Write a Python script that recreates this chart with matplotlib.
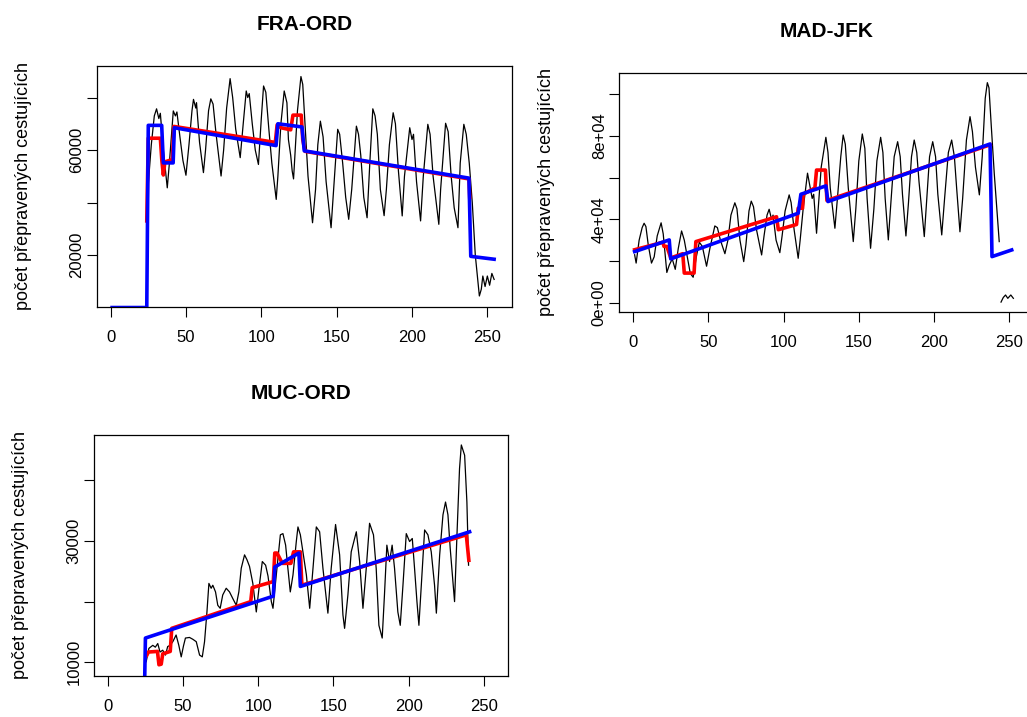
"""
Three airline routes: monthly passengers (black) with two fitted trends (red, blue)
"""
import numpy as np
import matplotlib
matplotlib.use("Agg")
import matplotlib.pyplot as plt

plt.rcParams['font.family'] = ['Liberation Sans', 'DejaVu Sans']

YLABEL = "počet přepravených cestujících"

# ---- FRA-ORD ----
fra_x = [25, 27, 29, 30.5, 32, 33, 35, 37.6, 39, 41.6, 43, 44, 46, 48, 50, 52, 54, 55, 56.5, 57, 59,
         61.6, 63, 65, 66.5, 68, 70, 73.3, 75, 77, 79.3, 81, 83, 86, 88, 90, 91, 92, 94, 96, 98.1,
         100, 101.5, 103, 105, 107, 109.9, 111, 113, 115.2, 117, 118, 119.5, 120.5, 121.4, 122, 124,
         126.3, 127.5, 129, 131, 134, 136, 137.5, 139.2, 141, 143, 146.3, 148, 150.7, 152, 154, 156,
         158, 160, 163.1, 164.5, 166, 168, 170.2, 172, 174, 175.5, 177, 179, 181.5, 183, 185, 187.5,
         189, 191, 193.5, 195, 198.5, 200, 201, 203, 205.7, 207.5, 210.5, 212, 214, 217.8, 219, 222.3,
         224, 226, 228, 230.5, 232, 234.4, 236, 238, 240, 242, 244.7, 246, 247, 248.5, 250, 251.5,
         253, 254.5]
fra_y = [47000, 62000, 73000, 75700, 72000, 74000, 60000, 45600, 55000, 74900, 73000, 74500, 65000,
         56000, 50400, 62000, 75000, 79300, 76000, 78000, 63000, 51400, 60000, 75000, 79500, 77500,
         66000, 50100, 60000, 76000, 87200, 80000, 68000, 57100, 70000, 82500, 80000, 81500, 70000,
         60000, 54500, 72000, 84400, 82000, 68000, 55000, 41200, 50000, 70000, 82500, 78000, 64000,
         58000, 52000, 49000, 55000, 75000, 88000, 85000, 70000, 50000, 32300, 45000, 62000, 71000,
         65000, 48000, 30400, 45000, 67900, 66000, 55000, 42000, 33600, 45000, 69100, 66000, 58000,
         42000, 34200, 55000, 75700, 73000, 66000, 45000, 35000, 45000, 62000, 74200, 70000, 52000,
         34900, 50000, 68500, 64000, 66000, 48000, 33000, 50000, 69800, 66000, 50000, 31700, 45000,
         70200, 67000, 50000, 38000, 30400, 55000, 69800, 66000, 55000, 40000, 20000, 4400, 7000,
         12000, 8000, 12000, 8500, 13000, 10700]
fra_red_x = [24, 25, 33, 34, 35, 36, 41, 42, 109.3, 110.5, 113, 119.5, 121, 126.5, 127.5, 129,
             237.8, 238.3]
fra_red_y = [33000, 64500, 64500, 56000, 50500, 55500, 56400, 69000, 62900, 69600, 68500, 67700,
             73300, 73300, 64000, 59500, 49000, 42000]
fra_blue_x = [1, 24, 25, 33.9, 35, 41.5, 42.3, 109.8, 111, 127, 128.5, 237.8, 239, 254.5]
fra_blue_y = [0, 0, 69400, 69400, 55100, 55100, 68500, 61700, 70000, 68800, 59700, 49300, 19500,
              18400]

# ---- MAD-JFK ----
mad_x = [1, 2, 4, 6, 7.3, 8.5, 10, 12.2, 14, 16, 18.6, 20, 22.4, 24, 26, 28, 30, 32.2, 34, 36, 38,
         39.9, 42, 44, 46, 48.8, 51, 54.3, 56, 58, 61, 63, 65, 67.6, 69, 71, 73.5, 75, 77, 78.5, 80,
         82, 85.4, 87, 89, 90.4, 92, 93, 95, 97.5, 99, 101, 103.7, 105, 107, 109.7, 111, 113, 115.9,
         117.5, 119, 120, 121.9, 123, 125, 128.1, 129.5, 131, 134.1, 136, 138, 139.6, 141, 143,
         146.3, 148, 150, 152.3, 154, 155.5, 157.8, 160, 162, 164.5, 166, 167.5, 169.6, 171.5, 173.5,
         175.8, 177.5, 179, 181.3, 183, 185, 186.8, 188.5, 190, 193.5, 195, 197, 199.1, 201, 202.5,
         205.1, 207, 209.5, 211.7, 213.5, 215, 217.2, 219, 221.5, 223.9, 225.5, 227.5, 230.1, 232,
         234, 235.4, 236.5, 238, 240, 243.3, 244, 244.5, 246, 247.5, 249, 251, 252.7]
mad_y = [23000, 19000, 30000, 36000, 38100, 36500, 28000, 19000, 22000, 32000, 38300, 33000, 14500,
         18000, 21000, 16000, 26000, 34400, 30000, 22000, 14000, 12200, 22000, 29000, 27000, 17500,
         26000, 36800, 36000, 30000, 23500, 30000, 42000, 47900, 45000, 30000, 19700, 28000, 44000,
         48700, 46000, 35000, 22900, 32000, 42000, 44800, 40000, 42000, 30000, 24000, 32000, 44000,
         51700, 48000, 35000, 21300, 30000, 45000, 62100, 56000, 50000, 52000, 33300, 45000, 65000,
         79300, 72000, 55000, 35700, 52000, 70000, 80400, 76000, 55000, 29300, 45000, 68000, 80900,
         74000, 50000, 26100, 45000, 68000, 79300, 72000, 50000, 30100, 50000, 70000, 77200, 70000,
         52000, 32000, 48000, 70000, 78000, 72000, 58000, 31700, 48000, 70000, 77200, 70000, 52000,
         32500, 50000, 72000, 78000, 70000, 55000, 34000, 50000, 78000, 89200, 82000, 65000, 51700,
         70000, 98000, 105500, 103000, 85000, 62000, 29300, np.nan, 300, 2500, 3700, 2100, 3700,
         2100]
mad_red_x = [1, 19.9, 20.5, 22.4, 25, 33, 34, 40.5, 41.7, 95.3, 96.5, 108.6, 109.7, 112.6, 113,
             120.8, 121.9, 127.8, 128.8, 237.2]
mad_red_y = [25400, 29000, 27000, 27000, 21500, 23500, 14200, 14200, 29300, 41200, 35000, 37500,
             45300, 45300, 52000, 55000, 63600, 63600, 49000, 75700]
mad_blue_x = [1, 24, 25, 109.7, 111.5, 128.1, 129.5, 237.2, 238.5, 251.6]
mad_blue_y = [24500, 30100, 21000, 42900, 52000, 56000, 48500, 76100, 22100, 25300]

# ---- MUC-ORD ----
muc_x = [25.5, 27.3, 29.9, 31.6, 33.2, 34.7, 36.5, 38.3, 39.8, 41.4, 43.2, 45.4, 47.2, 48.8, 50.3,
         51.6, 54.3, 56.5, 58.8, 61, 62.8, 64.3, 65.9, 67.2, 68.7, 69.8, 71.6, 73.1, 74.7, 76.4, 78.7,
         80.9, 83.1, 85.4, 87.1, 88.7, 90.9, 92.5, 94.2, 96.4, 98.7, 100.5, 102.7, 104.9, 106.5,
         108.7, 109.8, 112, 114.7, 116.4, 118.2, 119.7, 121.3, 123.1, 125.3, 126.4, 128, 129.7, 132,
         134.2, 136.4, 138.6, 140.8, 143, 146.3, 148.5, 151.4, 154.1, 156.3, 157.4, 159.6, 161.8,
         165.2, 167.4, 169.6, 171.8, 174, 176.6, 178.4, 180.2, 182.4, 183.9, 185.5, 187.3, 189,
         190.6, 192.8, 194.4, 196.2, 198.4, 200.6, 202.4, 203.9, 205.5, 206.8, 208.4, 210.6, 212.8,
         215, 217.2, 218.4, 220.6, 222.8, 224.5, 226.1, 227.6, 230.5, 232.1, 233.8, 235, 237.2,
         238.7, 239.8]
muc_y = [10100, 12300, 12800, 12500, 13100, 11700, 12000, 11200, 12600, 12800, 13400, 14500, 12800,
         10900, 12700, 14000, 14100, 13800, 13400, 11200, 10900, 13400, 18300, 23000, 22200, 22700,
         21600, 19400, 18900, 21100, 22200, 21600, 20500, 19400, 21600, 25500, 27700, 26900, 25800,
         23000, 18300, 22200, 26600, 26000, 24200, 20000, 18900, 24400, 31000, 31200, 29300, 25500,
         21600, 24400, 29900, 32300, 31000, 28200, 24400, 18900, 25500, 32300, 31500, 25500, 18100,
         25500, 32700, 27700, 17800, 15600, 21100, 28200, 31500, 26600, 18900, 25500, 32900, 31000,
         25500, 16100, 14000, 21100, 29300, 26600, 29300, 25500, 18300, 16100, 22700, 31200, 29900,
         30400, 25500, 20000, 16100, 22700, 31800, 31000, 28200, 22700, 18100, 27700, 34300, 36400,
         34300, 28800, 20000, 31000, 41900, 45800, 44100, 36400, 26000]
muc_red_x = [26, 27, 33, 34, 35.5, 36.5, 41.5, 42.5, 95, 96, 110, 111, 112.5, 116, 121.7, 123.5,
             128, 129, 238.3, 240]
muc_red_y = [11200, 11700, 11800, 9600, 9700, 11400, 11800, 15600, 20000, 22300, 23300, 28000,
             28000, 26300, 26300, 28200, 28200, 22700, 31000, 26800]
muc_blue_x = [24, 25, 110, 111, 127, 128, 240.5]
muc_blue_y = [0, 14000, 20900, 25700, 28000, 22500, 31500]

xticks = [0, 50, 100, 150, 200, 250]


def panel(ax, title, bx, by, rx, ry, ux, uy, ylim, yticks, ylabels):
    ax.plot(bx, by, color='black', lw=0.9)
    ax.plot(rx, ry, color='#ff0000', lw=2.6)
    ax.plot(ux, uy, color='#0000ff', lw=2.6)
    ax.set_xlim(-9.2, 266.2)
    ax.set_ylim(*ylim)
    ax.set_xticks(xticks)
    ax.set_yticks(yticks)
    ax.set_yticklabels(ylabels, rotation=90, va='center')
    ax.tick_params(axis='x', length=7, width=0.8, pad=9.5, labelsize=12)
    ax.tick_params(axis='y', length=7, width=0.8, pad=2.0, labelsize=12)
    for s in ax.spines.values():
        s.set_linewidth(0.9)
    ax.set_title(title, fontsize=15, fontweight='bold', pad=26)
    ax.set_ylabel(YLABEL, fontsize=13)
    ax.yaxis.set_label_coords(-0.156, 0.5)


fig = plt.figure(figsize=(10.27, 7.17), dpi=100)
ax1 = fig.add_axes([0.0942, 0.5722, 0.4041, 0.3357])
ax2 = fig.add_axes([0.6030, 0.5653, 0.4035, 0.3325])
ax3 = fig.add_axes([0.0915, 0.0576, 0.4034, 0.3357])

panel(ax1, "FRA-ORD", fra_x, fra_y, fra_red_x, fra_red_y, fra_blue_x, fra_blue_y,
      (305, 92000), [20000, 40000, 60000, 80000], ['20000', '', '60000', ''])
panel(ax2, "MAD-JFK", mad_x, mad_y, mad_red_x, mad_red_y, mad_blue_x, mad_blue_y,
      (-4300, 110000), [0, 20000, 40000, 60000, 80000, 100000],
      ['0e+00', '', '4e+04', '', '8e+04', ''])
panel(ax3, "MUC-ORD", muc_x, muc_y, muc_red_x, muc_red_y, muc_blue_x, muc_blue_y,
      (7800, 47440), [10000, 20000, 30000, 40000], ['10000', '', '30000', ''])

fig.savefig("out.png", dpi=100)
